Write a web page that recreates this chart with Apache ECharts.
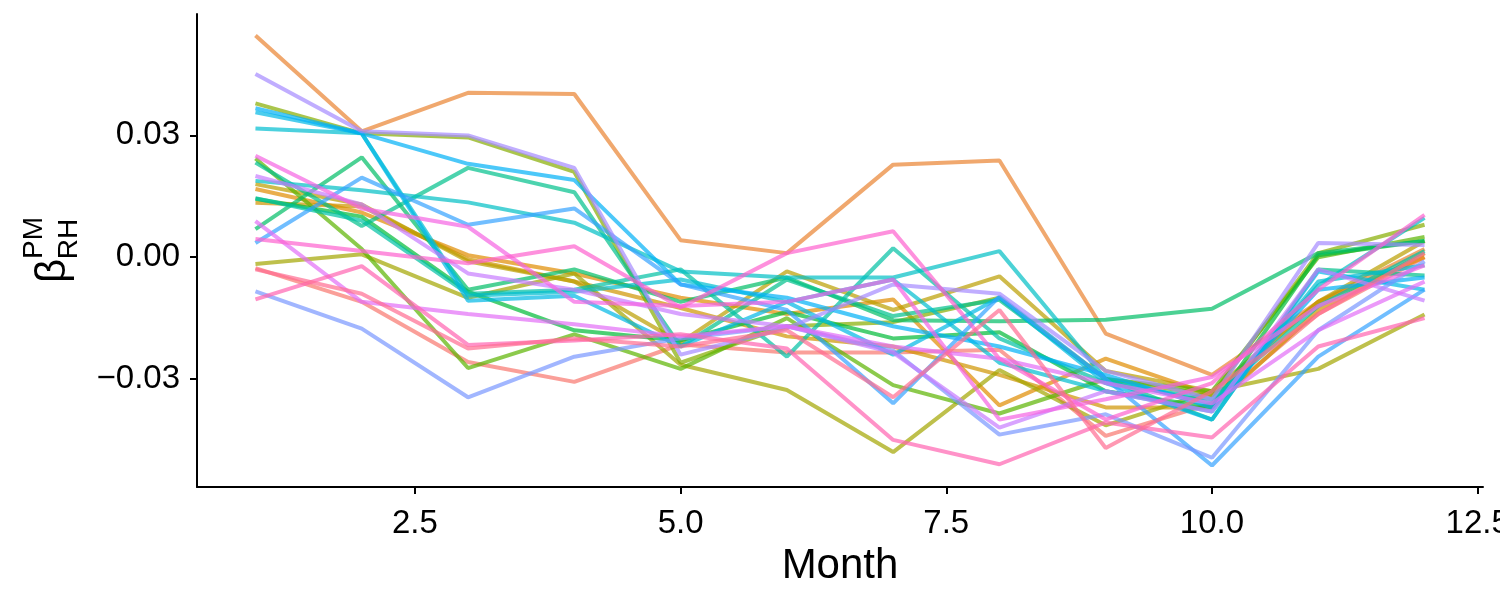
<!DOCTYPE html>
<html>
<head>
<meta charset="utf-8">
<script src="https://cdn.jsdelivr.net/npm/echarts@6/dist/echarts.min.js"></script>
<style>
html,body{margin:0;padding:0;background:#fff;}
#chart{width:1500px;height:600px;}
</style>
</head>
<body>
<div id="chart"></div>
<script>
// months on x, one line per site
const months = [1,2,3,4,5,6,7,8,9,10,11,12]
const xTicks = [2.5, 5, 7.5, 10, 12.5]
const yTicks = [-0.03, 0, 0.03]

const lineA = [0.0546, 0.0310, 0.0405, 0.0402, 0.0042, 0.0010, 0.0228, 0.0238, -0.0188, -0.0290, -0.0110, 0.0020]
const lineB = [0.0451, 0.0310, 0.0300, 0.0220, -0.0240, -0.0175, -0.0067, -0.0090, -0.0280, -0.0350, 0.0035, 0.0030]
const lineC = [0.0379, 0.0305, 0.0295, 0.0210, -0.0260, -0.0170, -0.0160, -0.0100, -0.0300, -0.0340, 0.0010, 0.0080]
const lineD = [0.0367, 0.0305, 0.0230, 0.0190, -0.0067, -0.0100, -0.0170, -0.0220, -0.0290, -0.0370, -0.0080, -0.0050]
const lineE = [0.0357, 0.0305, -0.0107, -0.0095, -0.0220, -0.0110, -0.0240, -0.0100, -0.0310, -0.0400, -0.0035, -0.0080]
const lineF = [0.0317, 0.0305, -0.0095, -0.0085, -0.0055, -0.0110, -0.0055, -0.0260, -0.0330, -0.0380, -0.0060, -0.0020]
const lineG = [0.0250, 0.0120, 0.0075, -0.0110, -0.0120, -0.0110, -0.0055, -0.0400, -0.0350, -0.0295, -0.0120, -0.0020]
const lineH = [0.0243, 0.0020, -0.0273, -0.0190, -0.0275, -0.0150, -0.0315, -0.0385, -0.0300, -0.0330, 0.0000, 0.0050]
const lineI = [0.0233, 0.0077, 0.0220, 0.0160, -0.0220, -0.0055, -0.0145, -0.0105, -0.0300, -0.0400, -0.0030, -0.0045]
const lineJ = [0.0200, 0.0130, -0.0040, -0.0080, -0.0140, -0.0170, -0.0235, -0.0420, -0.0330, -0.0380, -0.0030, -0.0107]
const lineK = [0.0188, 0.0165, 0.0135, 0.0085, -0.0035, -0.0050, -0.0050, 0.0015, -0.0300, -0.0360, -0.0070, 0.0097]
const lineL = [0.0168, 0.0110, 0.0005, -0.0040, -0.0100, -0.0140, -0.0104, -0.0365, -0.0250, -0.0340, -0.0110, 0.0000]
const lineM = [0.0144, 0.0100, -0.0085, -0.0180, -0.0205, -0.0135, -0.0200, -0.0185, -0.0330, -0.0370, 0.0005, 0.0040]
const lineN = [0.0134, 0.0125, -0.0005, -0.0060, -0.0125, -0.0195, -0.0220, -0.0290, -0.0370, -0.0370, -0.0130, 0.0010]
const lineO = [0.0180, 0.0130, -0.0010, -0.0060, -0.0210, -0.0035, -0.0130, -0.0047, -0.0280, -0.0330, -0.0110, 0.0040]
const lineP = [0.0089, -0.0110, -0.0140, -0.0165, -0.0195, -0.0170, -0.0220, -0.0250, -0.0310, -0.0360, -0.0180, -0.0060]
const lineQ = [0.0069, 0.0246, -0.0080, -0.0030, -0.0110, -0.0050, -0.0155, -0.0158, -0.0154, -0.0127, 0.0010, 0.0040]
const lineR = [0.0045, 0.0015, -0.0015, 0.0027, -0.0124, 0.0010, 0.0064, -0.0250, -0.0400, -0.0310, -0.0080, 0.0104]
const lineS = [0.0145, 0.0090, -0.0090, -0.0080, -0.0030, -0.0245, 0.0022, -0.0200, -0.0310, -0.0350, -0.0120, 0.0015]
const lineT = [-0.0017, 0.0007, -0.0100, -0.0040, -0.0265, -0.0327, -0.0480, -0.0278, -0.0414, -0.0330, -0.0275, -0.0141]
const lineU = [-0.0027, -0.0110, -0.0258, -0.0307, -0.0215, -0.0235, -0.0235, -0.0228, -0.0440, -0.0360, -0.0140, 0.0000]
const lineV = [-0.0030, -0.0090, -0.0225, -0.0200, -0.0220, -0.0180, -0.0345, -0.0130, -0.0470, -0.0330, -0.0140, 0.0010]
const lineW = [-0.0104, -0.0022, -0.0216, -0.0205, -0.0190, -0.0225, -0.0450, -0.0510, -0.0407, -0.0444, -0.0220, -0.0150]
const lineX = [-0.0084, -0.0176, -0.0345, -0.0245, -0.0200, -0.0170, -0.0230, -0.0437, -0.0387, -0.0494, -0.0180, -0.0010]
const lineY = [0.0035, 0.0196, 0.0080, 0.0120, -0.0067, -0.0130, -0.0360, -0.0097, -0.0300, -0.0513, -0.0245, -0.0080]

const allLines = [lineU, lineA, lineL, lineN, lineO, lineT, lineC, lineH, lineM, lineQ, lineI, lineS, lineK, lineF, lineE, lineD, lineY, lineX, lineB, lineJ, lineP, lineG, lineR, lineW, lineV]
const lineColors = ['#F8766D','#EA8331','#DF8B00','#CF9400','#BA9E00','#A3A500','#86AC00','#5BB300','#00BA38','#00BE67','#00C08B','#00C1A4','#00BFC4','#00BDD0','#00B8E5','#00B0F6','#35A2FF','#7997FF','#A58AFF','#C77CFF','#E26EF7','#F564E3','#FE61CF','#FF64B0','#FF6C91']

const font = 'Liberation Sans'
const chart = echarts.init(document.getElementById('chart'))

const series = allLines.map((vals, i) => ({
    type: 'line',
    symbol: 'none',
    silent: true,
    lineStyle: { width: 4, color: lineColors[i], opacity: 0.7 },
    data: months.map((m, j) => [m, vals[j]])
}))

const option = {
    animation: false,
    grid: { left: 197, right: 17, top: 14, bottom: 113, outerBoundsMode: 'none' },
    xAxis: {
        type: 'value',
        min: 0.45,
        max: 12.55,
        name: 'Month',
        nameLocation: 'middle',
        nameGap: 58,
        nameTextStyle: { fontSize: 42, color: '#000', fontFamily: font },
        axisLine: { onZero: false, lineStyle: { color: '#000', width: 2 } },
        axisTick: { customValues: xTicks, length: 7, lineStyle: { color: '#000', width: 2 } },
        axisLabel: {
            customValues: xTicks, fontSize: 33, color: '#000', fontFamily: font, margin: 20,
            formatter: v => v.toFixed(1)
        },
        splitLine: { show: false }
    },
    yAxis: {
        type: 'value',
        min: -0.0566,
        max: 0.0599,
        axisLine: { onZero: false, lineStyle: { color: '#000', width: 2 } },
        axisTick: { customValues: yTicks, length: 7, lineStyle: { color: '#000', width: 2 } },
        axisLabel: {
            customValues: yTicks, fontSize: 33, color: '#000', fontFamily: font, margin: 17,
            formatter: v => (v < 0 ? '\u2212' : '') + Math.abs(v).toFixed(2)
        },
        splitLine: { show: false }
    },
    // y title: beta with PM above and RH below, rotated
    graphic: [
        { type: 'text', x: 53, y: 271, rotation: Math.PI / 2,
          style: { text: 'β', fontSize: 42, fontFamily: font, fill: '#000', align: 'center', verticalAlign: 'middle' } },
        { type: 'text', x: 34, y: 238, rotation: Math.PI / 2,
          style: { text: 'PM', fontSize: 28, fontFamily: font, fill: '#000', align: 'center', verticalAlign: 'middle' } },
        { type: 'text', x: 69, y: 239, rotation: Math.PI / 2,
          style: { text: 'RH', fontSize: 28, fontFamily: font, fill: '#000', align: 'center', verticalAlign: 'middle' } }
    ],
    series: series
}

chart.setOption(option)
</script>
</body>
</html>
